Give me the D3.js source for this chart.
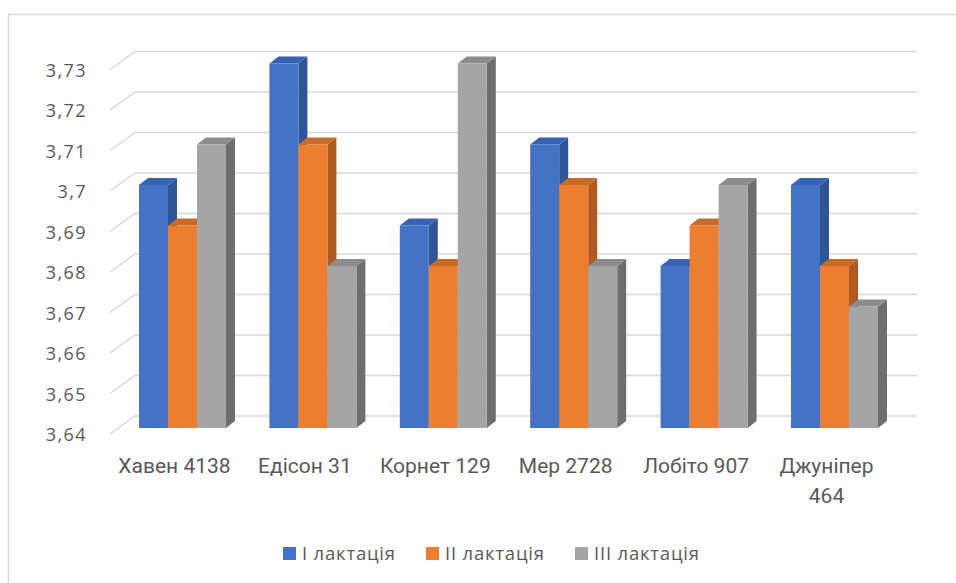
<!DOCTYPE html>
<html>
<head>
    <meta charset="utf-8">
    <title>Лактації</title>
    <script src="https://d3js.org/d3.v7.min.js"></script>
    <style>
        body { margin: 0; background: #fff; }
        svg { display: block; }
        .tick-label { font-family: 'Open Sans', sans-serif; font-size: 18px; letter-spacing: 1.4px; fill: #595959; }
        .cat-label { font-family: Roboto, sans-serif; font-size: 21px; fill: #595959; }
        .legend-label { font-family: 'Open Sans', sans-serif; font-size: 18.5px; letter-spacing: 0.8px; fill: #595959; }
    </style>
</head>
<body>
<svg width="956" height="583"></svg>
<script>
    // chart data
    const categories = ['Хавен 4138', 'Едісон 31', 'Корнет 129', 'Мер 2728', 'Лобіто 907', 'Джуніпер 464'];
    const seriesNames = ['I лактація', 'II лактація', 'III лактація'];
    const lact1 = [3.70, 3.73, 3.69, 3.71, 3.68, 3.70];
    const lact2 = [3.69, 3.71, 3.68, 3.70, 3.69, 3.68];
    const lact3 = [3.71, 3.68, 3.73, 3.68, 3.70, 3.67];
    const yTicks = [3.64, 3.65, 3.66, 3.67, 3.68, 3.69, 3.70, 3.71, 3.72, 3.73];

    const seriesValues = [lact1, lact2, lact3];
    const faceColors = ['#4472c4', '#ed7d31', '#a5a5a5'];
    const sideColors = ['#2f5597', '#ae5a21', '#6e6e6e'];
    const topColors  = ['#3763b3', '#c86a28', '#8c8c8c'];

    let svg = d3.select('svg');

    // outer chart border (runs off the right / bottom of the picture)
    svg.append('rect')
        .attr('x', 8.5).attr('y', 14.5)
        .attr('width', 1000).attr('height', 700)
        .style('fill', 'none')
        .style('stroke', '#d9d9d9')
        .style('stroke-width', 1.5);

    // y scale of the bar plane
    let yScale = d3.scaleLinear()
                    .domain([3.64, 3.73])
                    .range([428, 63.5]);

    // 3d offsets
    const wallDx = 15, wallDy = -12;    // bar plane -> back wall
    const frontDx = -10, frontDy = 6;   // bar plane -> front of side wall
    const depthDx = 9, depthDy = -7;    // bar depth
    const wallLeft = 135, wallRight = 917;

    let grid = svg.append('g');
    yTicks.forEach(t => {
        let yb = yScale(t) + wallDy;
        let yf = yScale(t) + frontDy;
        grid.append('polyline')
            .attr('points', `${wallLeft - wallDx - 10 + frontDx + 10},${yf} ${wallLeft},${yb} ${wallRight},${yb}`)
            .style('fill', 'none')
            .style('stroke', '#d9d9d9')
            .style('stroke-width', 1.5);
        svg.append('text')
            .classed('tick-label', true)
            .attr('x', 87)
            .attr('y', yf)
            .attr('text-anchor', 'end')
            .attr('dominant-baseline', 'central')
            .text(String(+t.toFixed(2)).replace('.', ','));
    });

    let xScale = d3.scaleBand()
                    .domain(categories)
                    .range([117.3, 899.7])
                    .paddingInner(0.333)
                    .paddingOuter(0.1665);
    let innerScale = d3.scaleBand()
                    .domain(d3.range(seriesNames.length))
                    .range([0, xScale.bandwidth()]);

    let bars = svg.append('g');
    categories.forEach((c, ci) => {
        seriesValues.forEach((vals, si) => {
            let x0 = xScale(c) + innerScale(si);
            let x1 = x0 + innerScale.bandwidth();
            let yTop = yScale(vals[ci]);
            let yBot = yScale(3.64);
            let g = bars.append('g');
            // right side
            g.append('polygon')
                .attr('points', `${x1},${yTop} ${x1 + depthDx},${yTop + depthDy} ${x1 + depthDx},${yBot + depthDy} ${x1},${yBot}`)
                .style('fill', sideColors[si]);
            // top
            g.append('polygon')
                .attr('points', `${x0},${yTop} ${x0 + depthDx},${yTop + depthDy} ${x1 + depthDx},${yTop + depthDy} ${x1},${yTop}`)
                .style('fill', topColors[si]);
            // front
            g.append('rect')
                .attr('x', x0).attr('y', yTop)
                .attr('width', innerScale.bandwidth())
                .attr('height', yBot - yTop)
                .style('fill', faceColors[si]);
        });
    });

    // category labels (wrap the long one like Excel does)
    categories.forEach(c => {
        let cx = xScale(c) + xScale.bandwidth() / 2 - 8;
        let lines = c === 'Джуніпер 464' ? ['Джуніпер', '464'] : [c];
        let t = svg.append('text')
            .classed('cat-label', true)
            .attr('text-anchor', 'middle');
        lines.forEach((l, i) => {
            t.append('tspan')
                .attr('x', cx)
                .attr('y', 473 + i * 30)
                .text(l);
        });
    });

    // legend
    const legendX = [283, 426, 575];
    let legend = svg.append('g');
    seriesNames.forEach((s, i) => {
        legend.append('rect')
            .attr('x', legendX[i]).attr('y', 547)
            .attr('width', 13).attr('height', 13)
            .style('fill', faceColors[i]);
        legend.append('text')
            .classed('legend-label', true)
            .attr('x', legendX[i] + 19)
            .attr('y', 560)
            .text(s);
    });
</script>
</body>
</html>
